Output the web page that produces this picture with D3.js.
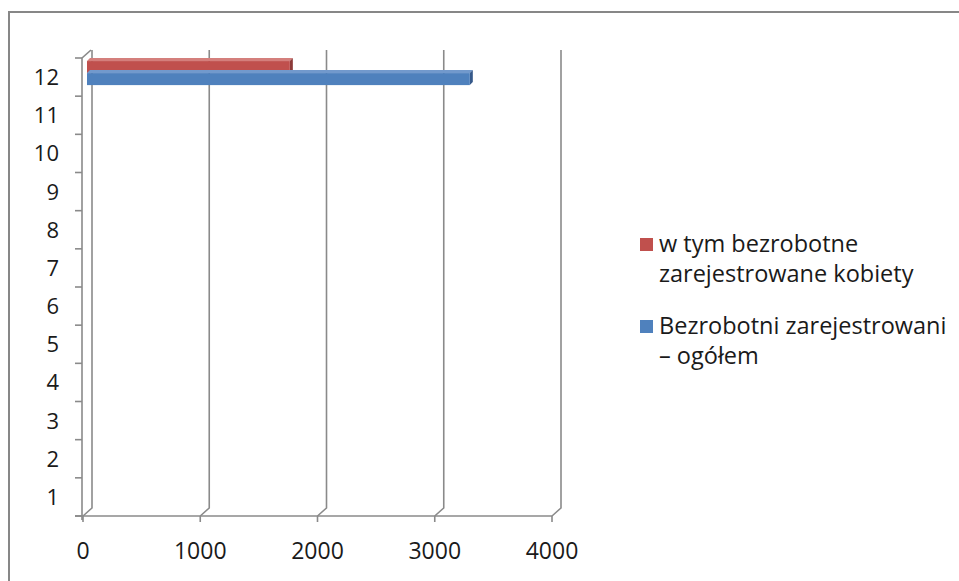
<!DOCTYPE html>
<html>
<head>
<meta charset="utf-8">
<script src="https://cdn.jsdelivr.net/npm/d3@7"></script>
<style>
  html, body { margin: 0; padding: 0; background: #fff; }
  svg { display: block; }
  text { font-family: "Open Sans", Lato, sans-serif; fill: #1a1a1a; }
</style>
</head>
<body>
<svg id="chart" width="959" height="581"></svg>
<script>
// ---- data ----
const categories = ["1","2","3","4","5","6","7","8","9","10","11","12"];
const seriesNames = ["Bezrobotni zarejestrowani – ogółem", "w tym bezrobotne zarejestrowane kobiety"];
const totalValues = [null, null, null, null, null, null, null, null, null, null, null, 3265];
const womenValues = [null, null, null, null, null, null, null, null, null, null, null, 1730];
const xTicks = [0, 1000, 2000, 3000, 4000];
const legendLines = [
  ["w tym bezrobotne", "zarejestrowane kobiety"],
  ["Bezrobotni zarejestrowani", "– ogółem"]
];
const seriesColors = ["#4f81bd", "#c0504d"];
const sideColors = ["#36598a", "#8c3a38"];
const topColors = ["#7299cc", "#d47f7c"];

// ---- layout ----
const svg = d3.select("#chart");
const depth = { dx: 9, dy: -8 };
const x = d3.scaleLinear().domain([0, 4000]).range([83, 552]);
const y = d3.scaleBand().domain(categories.slice().reverse()).range([58, 516]).paddingInner(0.37).paddingOuter(0.185);
const ySub = d3.scaleBand().domain(["women", "total"]).range([0, y.bandwidth()]);
const step = y.step();
const grey = "#8a8a8a";

// outer border
svg.append("rect").attr("x", 9).attr("y", 12).attr("width", 1200).attr("height", 1200)
  .attr("fill", "none").attr("stroke", "#878787").attr("stroke-width", 2);

// back wall gridlines (vertical) + floor diagonals
const gTop = 58 + depth.dy, gBot = 516 + depth.dy;
xTicks.forEach(t => {
  const xf = x(t), xb = x(t) + depth.dx;
  svg.append("path")
    .attr("d", `M${xb},${gTop}L${xb},${gBot}L${xf},516`)
    .attr("fill", "none").attr("stroke", grey).attr("stroke-width", 1.6);
});
// left wall top diagonal
svg.append("path").attr("d", `M82,58L${82 + depth.dx},${gTop}`)
  .attr("fill", "none").attr("stroke", grey).attr("stroke-width", 1.6);

// y axis line + ticks at band boundaries
svg.append("line").attr("x1", 82).attr("x2", 82).attr("y1", 58).attr("y2", 520)
  .attr("stroke", grey).attr("stroke-width", 1.6);
d3.range(categories.length + 1).forEach(i => {
  const yy = 58 + i * step;
  svg.append("line").attr("x1", 75).attr("x2", 82).attr("y1", yy).attr("y2", yy)
    .attr("stroke", grey).attr("stroke-width", 1.6);
});
// x axis line + ticks
svg.append("line").attr("x1", 75).attr("x2", x(4000)).attr("y1", 516).attr("y2", 516)
  .attr("stroke", grey).attr("stroke-width", 1.6);
xTicks.forEach(t => {
  svg.append("line").attr("x1", x(t)).attr("x2", x(t)).attr("y1", 516).attr("y2", 522)
    .attr("stroke", grey).attr("stroke-width", 1.6);
});

// y labels
categories.forEach(c => {
  svg.append("text").attr("x", 59).attr("y", y(c) + y.bandwidth() / 2 + 8)
    .attr("text-anchor", "end").attr("font-size", 22).text(c);
});
// x labels
xTicks.forEach(t => {
  svg.append("text").attr("x", x(t)).attr("y", 559)
    .attr("text-anchor", "middle").attr("font-size", 23).text(t);
});

// bars (3D)
const shift = { dx: 4, dy: -4 };
const bd = { dx: 3, dy: -3 };
function bar3d(cat, v, key, si) {
  if (v == null) return;
  const x0 = x(0) + shift.dx, x1 = x(v) + shift.dx;
  const y0 = y(cat) + ySub(key) + shift.dy, h = ySub.bandwidth();
  const g = svg.append("g");
  g.append("path").attr("d", `M${x0},${y0}L${x0 + bd.dx},${y0 + bd.dy}L${x1 + bd.dx},${y0 + bd.dy}L${x1},${y0}Z`)
    .attr("fill", topColors[si]);
  g.append("path").attr("d", `M${x1},${y0}L${x1 + bd.dx},${y0 + bd.dy}L${x1 + bd.dx},${y0 + h + bd.dy}L${x1},${y0 + h}Z`)
    .attr("fill", sideColors[si]);
  g.append("rect").attr("x", x0).attr("y", y0).attr("width", x1 - x0).attr("height", h)
    .attr("fill", seriesColors[si]);
}
categories.forEach((c, i) => {
  bar3d(c, womenValues[i], "women", 1);
  bar3d(c, totalValues[i], "total", 0);
});

// legend
const legendItems = [
  { color: seriesColors[1], lines: legendLines[0], y: 252 },
  { color: seriesColors[0], lines: legendLines[1], y: 334 }
];
legendItems.forEach(it => {
  svg.append("rect").attr("x", 640).attr("y", it.y - 14).attr("width", 13).attr("height", 13).attr("fill", it.color);
  it.lines.forEach((ln, j) => {
    svg.append("text").attr("x", 659).attr("y", it.y + j * 30).attr("font-size", 23.5).text(ln);
  });
});
</script>
</body>
</html>
